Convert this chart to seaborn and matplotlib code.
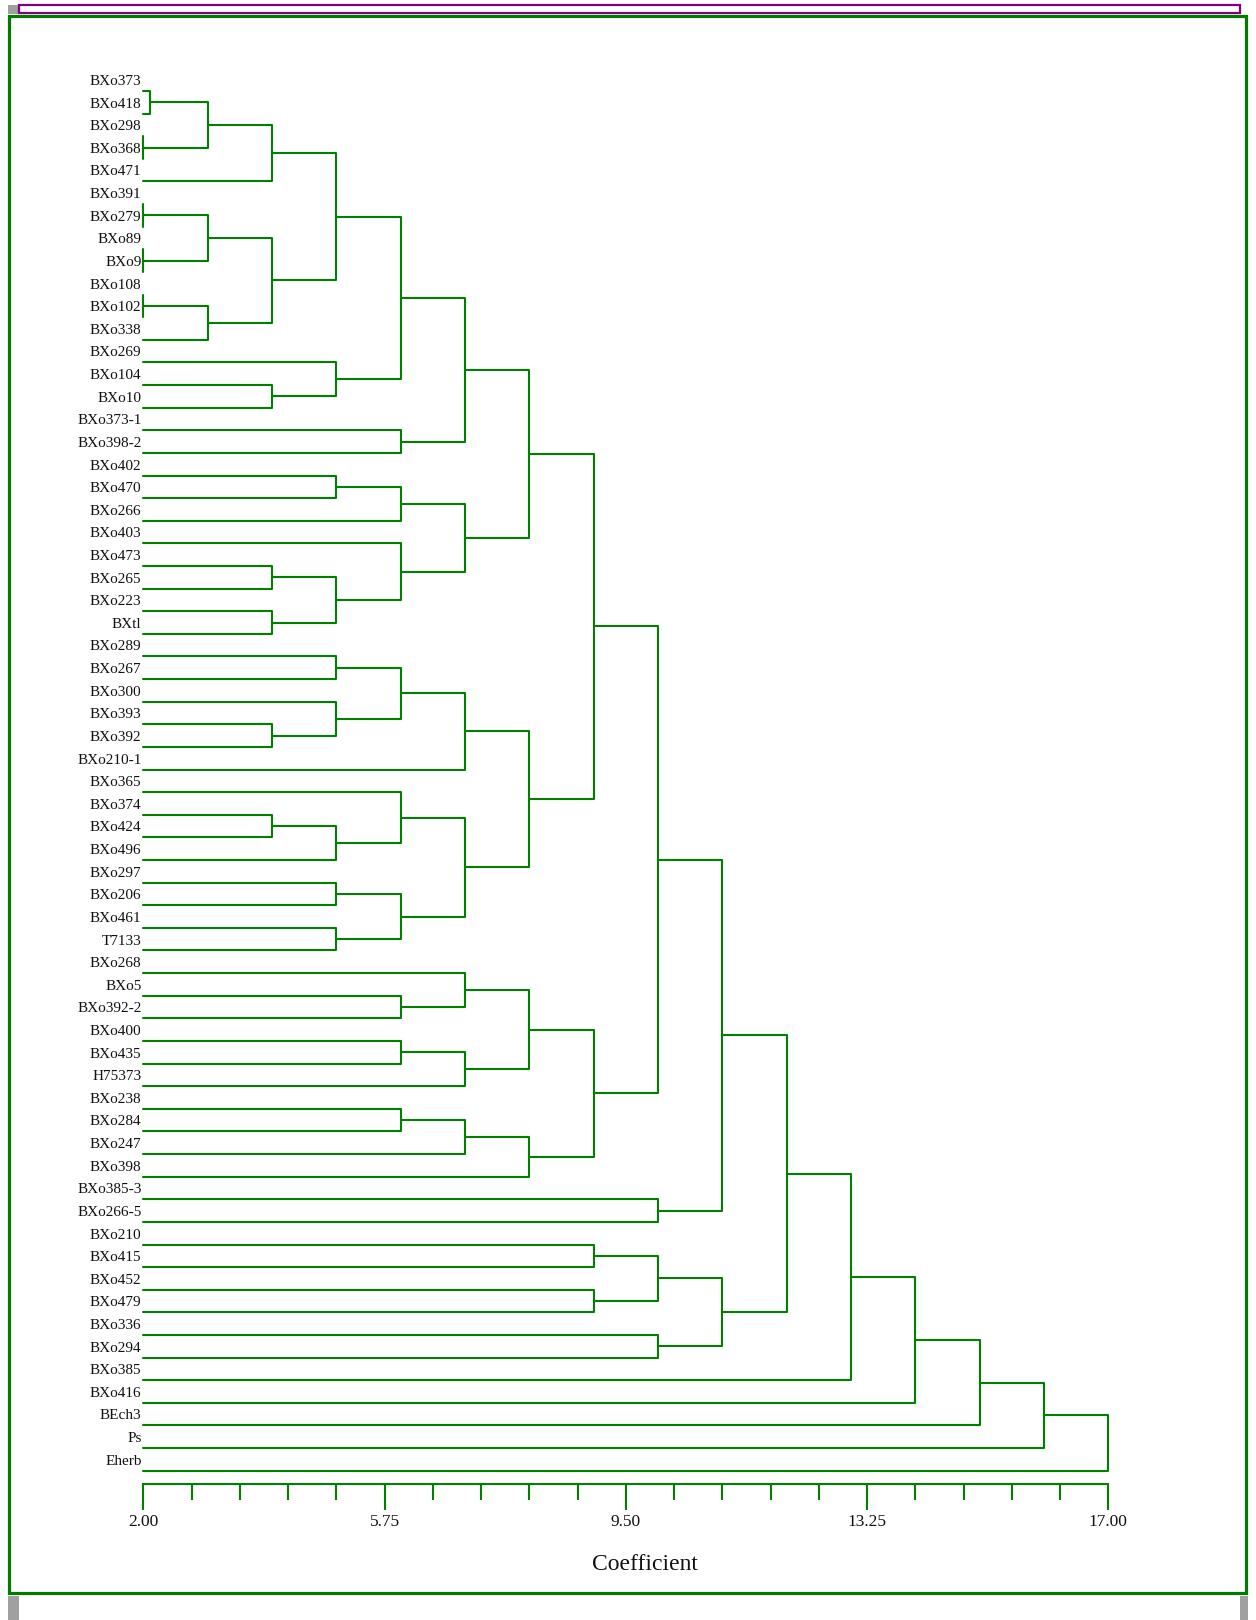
import numpy as np
import pandas as pd
import seaborn as sns
import matplotlib
matplotlib.use("Agg")
import matplotlib.pyplot as plt
from matplotlib.patches import Rectangle

# leaf labels, top to bottom
labels = ["BXo373", "BXo418", "BXo298", "BXo368", "BXo471", "BXo391", "BXo279", "BXo89",
          "BXo9", "BXo108", "BXo102", "BXo338", "BXo269", "BXo104", "BXo10", "BXo373-1",
          "BXo398-2", "BXo402", "BXo470", "BXo266", "BXo403", "BXo473", "BXo265", "BXo223",
          "BXtl", "BXo289", "BXo267", "BXo300", "BXo393", "BXo392", "BXo210-1", "BXo365",
          "BXo374", "BXo424", "BXo496", "BXo297", "BXo206", "BXo461", "T7133", "BXo268",
          "BXo5", "BXo392-2", "BXo400", "BXo435", "H75373", "BXo238", "BXo284", "BXo247",
          "BXo398", "BXo385-3", "BXo266-5", "BXo210", "BXo415", "BXo452", "BXo479", "BXo336",
          "BXo294", "BXo385", "BXo416", "BEch3", "Ps", "Eherb"]

# merges: ids < 62 are leaves, merge k gets id 62 + k
merge_a = [0, 2, 62, 64, 5, 7, 66, 9, 69, 68, 65, 13, 12, 72, 15, 75, 17, 78, 21, 23,
           80, 20, 79, 77, 25, 28, 27, 86, 89, 32, 91, 31, 35, 37, 94, 93, 90, 85, 40, 39,
           42, 102, 101, 45, 105, 106, 104, 99, 49, 109, 51, 53, 112, 55, 114, 111, 117, 118,
           119, 120, 121]
merge_b = [1, 3, 63, 4, 6, 8, 67, 10, 11, 70, 71, 14, 73, 74, 16, 76, 18, 19, 22, 24,
           81, 82, 83, 84, 26, 29, 87, 88, 30, 33, 34, 92, 36, 38, 95, 96, 97, 98, 41, 100,
           43, 44, 103, 46, 47, 48, 107, 108, 50, 110, 52, 54, 113, 56, 115, 116, 57, 58,
           59, 60, 61]
merge_h = [2.1, 2.0, 3.0, 4.0, 2.0, 2.0, 3.0, 2.0, 3.0, 4.0, 5.0, 4.0, 5.0, 6.0, 6.0, 7.0,
           5.0, 6.0, 4.0, 4.0, 5.0, 6.0, 7.0, 8.0, 5.0, 4.0, 5.0, 6.0, 7.0, 4.0, 5.0, 6.0,
           5.0, 5.0, 6.0, 7.0, 8.0, 9.0, 6.0, 7.0, 6.0, 7.0, 8.0, 6.0, 7.0, 8.0, 9.0, 10.0,
           10.0, 11.0, 9.0, 9.0, 10.0, 10.0, 11.0, 12.0, 13.0, 14.0, 15.0, 16.0, 17.0]
leaf_base = 2.0
major_ticks = [2.00, 5.75, 9.50, 13.25, 17.00]
minor_step = 0.75

W, H = 1256, 1620
GREEN = "#008000"

# build the dendrogram links
pos = [float(i) for i in range(len(labels))]
coef = [leaf_base] * len(labels)
rows = []
for k, (a, b, h) in enumerate(zip(merge_a, merge_b, merge_h)):
    rows += [(coef[a], pos[a], k), (h, pos[a], k), (h, pos[b], k), (coef[b], pos[b], k)]
    pos.append((pos[a] + pos[b]) / 2)
    coef.append(h)
df = pd.DataFrame(rows, columns=["coef", "pos", "link"])

sns.set_theme(style="white")
plt.rcParams["font.family"] = ["Liberation Serif", "DejaVu Serif"]

fig = plt.figure(figsize=(W / 100, H / 100), dpi=100)

# pixel layout: first leaf at y=91, last at 1470.7, scale line at 1484.3
slot = (1470.7 - 91) / (len(labels) - 1)
top_px = 91 - 1.5 * slot
bot_px = 1484.3
x0_px, x1_px = 143.3, 1108.3
ax = fig.add_axes([x0_px / W, 1 - bot_px / H, (x1_px - x0_px) / W, (bot_px - top_px) / H])

sns.lineplot(data=df, x="coef", y="pos", units="link", estimator=None, sort=False,
             color=GREEN, linewidth=1.5, ax=ax)
for ln in ax.lines:
    ln.set_clip_on(False)

ax.set_xlim(major_ticks[0], major_ticks[-1])
ax.set_ylim(len(labels) - 1 + (bot_px - 1470.7) / slot, -1.5)
ax.set_facecolor("none")

for i, lab in enumerate(labels):
    ax.annotate(lab, xy=(leaf_base, i), xytext=(-1.2, 4.3), textcoords="offset points",
                ha="right", va="baseline", fontsize=11, color="#111111", annotation_clip=False)

sns.despine(ax=ax, left=True)
ax.spines["bottom"].set_color(GREEN)
ax.spines["bottom"].set_linewidth(1.5)
ax.set_yticks([])
ax.set_xticks(major_ticks)
ax.set_xticklabels([f"{t:.2f}" for t in major_ticks])
ax.set_xticks(np.arange(major_ticks[0], major_ticks[-1] + 0.01, minor_step), minor=True)
ax.tick_params(axis="x", which="major", bottom=True, direction="out", length=18.5,
               width=1.5, color=GREEN, labelsize=12.5, pad=3, labelcolor="#111111")
ax.tick_params(axis="x", which="minor", bottom=True, direction="out", length=11.7,
               width=1.5, color=GREEN)
ax.set_xlabel("")
ax.set_ylabel("")

fig.text(645 / W, 1 - 1565 / H, "Coefficient", ha="center", va="center", fontsize=17,
         color="#111111")


def px_rect(x0, y0, x1, y1, **kw):
    return Rectangle((x0 / W, 1 - y1 / H), (x1 - x0) / W, (y1 - y0) / H,
                     transform=fig.transFigure, **kw)


# window decorations around the plot
fig.add_artist(px_rect(8, 5, 18, 14, facecolor="#a0a0a0", edgecolor="none"))
fig.add_artist(px_rect(19, 5.5, 1240, 13, facecolor="none", edgecolor="#800080", linewidth=1.6))
fig.add_artist(px_rect(8, 1596, 19, 1620, facecolor="#a0a0a0", edgecolor="none"))
fig.add_artist(px_rect(1240, 1596, 1248, 1620, facecolor="#a0a0a0", edgecolor="none"))
fig.add_artist(px_rect(9, 15.5, 1246, 1592.5, facecolor="none", edgecolor="#007a00", linewidth=2.3))

fig.savefig("out.png", dpi=100)
